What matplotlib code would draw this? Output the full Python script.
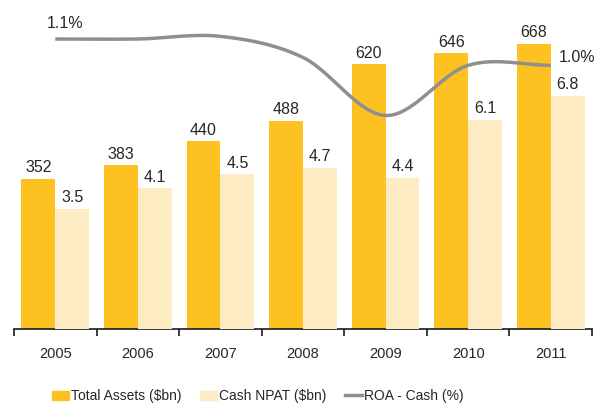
import numpy as np
import matplotlib.pyplot as plt
from matplotlib.patches import Patch
from matplotlib.lines import Line2D

plt.rcParams['font.family'] = ['Liberation Sans', 'DejaVu Sans']

years = ['2005', '2006', '2007', '2008', '2009', '2010', '2011']
total_assets = [352, 383, 440, 488, 620, 646, 668]
cash_npat = [3.5, 4.1, 4.5, 4.7, 4.4, 6.1, 6.8]
roa_cash = [1.10, 1.10, 1.11, 1.03, 0.81, 1.00, 1.00]

c_assets = '#FDC121'
c_npat = '#FDEBC4'
c_roa = '#8F8F8F'
c_text = '#262626'


def smooth(x, y, n=30):
    # Catmull-Rom curve through the points, like a smoothed Excel line
    x = np.asarray(x, float)
    y = np.asarray(y, float)
    px = np.concatenate([[2 * x[0] - x[1]], x, [2 * x[-1] - x[-2]]])
    py = np.concatenate([[2 * y[0] - y[1]], y, [2 * y[-1] - y[-2]]])
    xs, ys = [], []
    t = np.linspace(0, 1, n)
    for i in range(1, len(px) - 2):
        for p, out in ((px, xs), (py, ys)):
            p0, p1, p2, p3 = p[i - 1], p[i], p[i + 1], p[i + 2]
            out.extend(0.5 * ((2 * p1) + (-p0 + p2) * t
                              + (2 * p0 - 5 * p1 + 4 * p2 - p3) * t ** 2
                              + (-p0 + 3 * p1 - 3 * p2 + p3) * t ** 3))
    return np.array(xs), np.array(ys)


fig = plt.figure(figsize=(5.95, 4.03), dpi=100)
ax = fig.add_axes([14 / 595, 74 / 403, 578 / 595, 319 / 403])
ax2 = ax.twinx()
ax3 = ax.twinx()

x = np.arange(len(years))
w = 0.41

ax.bar(x - w / 2, total_assets, w, color=c_assets, zorder=2)
ax2.bar(x + w / 2, cash_npat, w, color=c_npat, zorder=2)
sx, sy = smooth(x, roa_cash)
ax3.plot(sx, sy, color=c_roa, lw=2.5, solid_capstyle='butt')

for xi, v in zip(x, total_assets):
    ax.annotate(str(v), (xi - w / 2, v), xytext=(0, 2.5), textcoords='offset points',
                ha='center', va='bottom', fontsize=11.5, color=c_text)
for xi, v in zip(x, cash_npat):
    ax2.annotate(f'{v:.1f}', (xi + w / 2, v), xytext=(0, 2.5), textcoords='offset points',
                 ha='center', va='bottom', fontsize=11.5, color=c_text)
ax3.annotate(f'{roa_cash[0]:.1f}%', (x[0], roa_cash[0]), xytext=(7, 6),
             textcoords='offset points', ha='center', va='bottom',
             fontsize=11.5, color=c_text)
ax3.annotate(f'{roa_cash[-1]:.1f}%', (x[-1], roa_cash[-1]), xytext=(6, 6),
             textcoords='offset points', ha='left', va='center',
             fontsize=11.5, color=c_text)

ax.set_xlim(-0.5, len(years) - 0.5)
ax.set_ylim(0, 747)
ax2.set_ylim(0, 9.29)
ax3.set_ylim(0, 1.21)

for a in (ax, ax2, ax3):
    for s in ('top', 'left', 'right'):
        a.spines[s].set_visible(False)
    a.set_yticks([])
ax2.spines['bottom'].set_visible(False)
ax3.spines['bottom'].set_visible(False)
ax.spines['bottom'].set_color('#1a1a1a')
ax.spines['bottom'].set_linewidth(1.2)

ax.set_xticks(np.arange(len(years) + 1) - 0.5)
ax.set_xticklabels([])
ax.set_xticks(x, minor=True)
ax.set_xticklabels(years, minor=True, fontsize=10.5, color=c_text)
ax.tick_params(axis='x', which='major', length=5, width=1.2, color='#1a1a1a')
ax.tick_params(axis='x', which='minor', length=0, pad=13)

handles = [Patch(color=c_assets), Patch(color=c_npat),
           Line2D([], [], color=c_roa, lw=2.5)]
labels = ['Total Assets ($bn)', 'Cash NPAT ($bn)', 'ROA - Cash (%)']
fig.legend(handles, labels, loc='center', bbox_to_anchor=(258 / 595, 7 / 403),
           ncol=3, frameon=False, fontsize=10, handlelength=1.25, handleheight=0.6,
           handletextpad=0.15, columnspacing=1.3, labelcolor=c_text)

fig.savefig('out.png', dpi=100)
